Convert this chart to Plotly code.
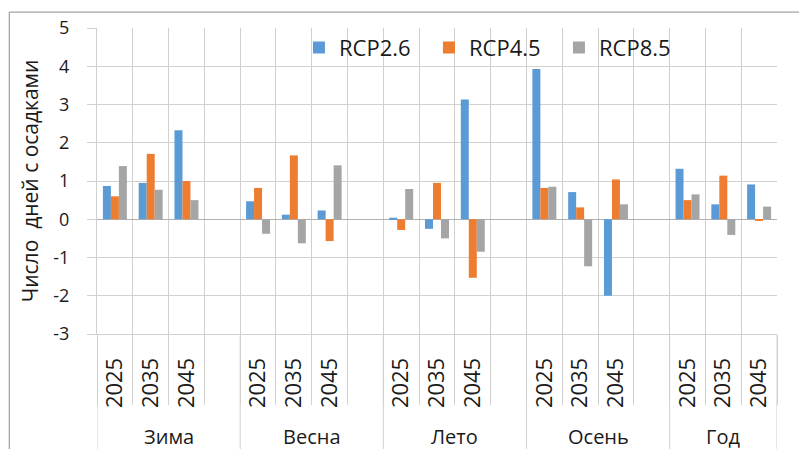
import plotly.graph_objects as go

groups = ["Зима", "Весна", "Лето", "Осень", "Год"]
years = ["2025", "2035", "2045"]
series_names = ["RCP2.6", "RCP4.5", "RCP8.5"]
rcp26 = [0.87, 0.95, 2.33, 0.47, 0.12, 0.23, 0.04, -0.25, 3.13, 3.93, 0.71, -2.00, 1.32, 0.39, 0.91]
rcp45 = [0.60, 1.71, 1.00, 0.82, 1.67, -0.57, -0.28, 0.95, -1.53, 0.82, 0.31, 1.04, 0.50, 1.14, -0.03]
rcp85 = [1.39, 0.77, 0.50, -0.38, -0.63, 1.41, 0.79, -0.50, -0.85, 0.85, -1.23, 0.39, 0.65, -0.41, 0.33]
y_ticks = [-3, -2, -1, 0, 1, 2, 3, 4, 5]
y_ticktext = ["-3", "-2", "-1", "0", "1", "2", "3", "4", "5"]
colors = ["#5B9BD5", "#ED7D31", "#A5A5A5"]

FONT = "Open Sans"
GRID = "#d0d0d0"
SLOTS_PER_GROUP = len(years) + 1  # one empty slot between groups

xpos = [g * SLOTS_PER_GROUP + j for g in range(len(groups)) for j in range(len(years))]
ticktext = [y for _ in groups for y in years]
last = len(groups) - 1
total_slots = last * SLOTS_PER_GROUP + len(years)
boundaries = [k - 0.5 for k in range(total_slots + 1)]
group_edges = [g * SLOTS_PER_GROUP - 0.5 for g in range(len(groups))] + [total_slots - 0.5]

fig = go.Figure()
for name, vals, col in zip(series_names, [rcp26, rcp45, rcp85], colors):
    fig.add_trace(go.Bar(x=xpos, y=vals, name=name, marker=dict(color=col, line=dict(width=0))))

shapes = []
for e in group_edges:
    shapes.append(dict(type="line", xref="x", yref="paper", x0=e, x1=e, y0=0, y1=-0.40,
                       line=dict(color=GRID, width=1)))
# outer chart border (top and left)
shapes.append(dict(type="line", xref="paper", yref="paper", x0=-0.129, x1=1.05, y0=1.052, y1=1.052,
                   line=dict(color="#8c8c8c", width=1)))
shapes.append(dict(type="line", xref="paper", yref="paper", x0=-0.129, x1=-0.129, y0=1.052, y1=-0.40,
                   line=dict(color="#8c8c8c", width=1)))

annotations = []
for g, name in enumerate(groups):
    lo = group_edges[g]
    hi = group_edges[g + 1]
    annotations.append(dict(x=(lo + hi) / 2, y=-0.334, xref="x", yref="paper", text=name,
                            showarrow=False, yanchor="middle", xanchor="center",
                            font=dict(family=FONT, size=20, color="#1a1a1a")))

fig.update_layout(
    width=799, height=449,
    margin=dict(l=97, r=22, t=28, b=115, autoexpand=False),
    paper_bgcolor="white", plot_bgcolor="white",
    barmode="group", bargap=0.33, bargroupgap=0,
    font=dict(family=FONT, color="#1a1a1a"),
    showlegend=True,
    legend=dict(orientation="h", x=0.297, y=0.936, xanchor="left", yanchor="middle",
                font=dict(family=FONT, size=22, color="#1a1a1a"),
                entrywidth=85, entrywidthmode="pixels", bgcolor="rgba(0,0,0,0)",
                traceorder="normal"),
    xaxis=dict(range=[-0.5, total_slots - 0.5], tickmode="array", tickvals=xpos, ticktext=ticktext,
               tickangle=-90, ticks="", showgrid=False, zeroline=False,
               showline=True, linecolor=GRID, linewidth=1,
               tickfont=dict(family=FONT, size=22, color="#1a1a1a"),
               ticklabelstandoff=14,
               minor=dict(tickmode="array", tickvals=boundaries, ticks="outside", ticklen=70,
                          tickcolor=GRID, tickwidth=1, showgrid=True, gridcolor=GRID, gridwidth=1)),
    yaxis=dict(range=[-3, 5], tickmode="array", tickvals=y_ticks, ticktext=y_ticktext,
               showgrid=True, gridcolor=GRID, gridwidth=1,
               zeroline=True, zerolinecolor="#b0b0b0", zerolinewidth=1,
               showline=True, linecolor=GRID, linewidth=1,
               ticks="outside", ticklen=9, tickcolor=GRID,
               tickfont=dict(family=FONT, size=18, color="#1a1a1a"),
               ticklabelstandoff=14,
               title=dict(text="Число  дней с осадками", font=dict(family=FONT, size=21, color="#1a1a1a"),
                          standoff=8)),
    shapes=shapes, annotations=annotations,
)

fig.write_html("out.html", config={"displayModeBar": False},
               post_script="document.body.style.margin='0';document.body.style.padding='0';")
